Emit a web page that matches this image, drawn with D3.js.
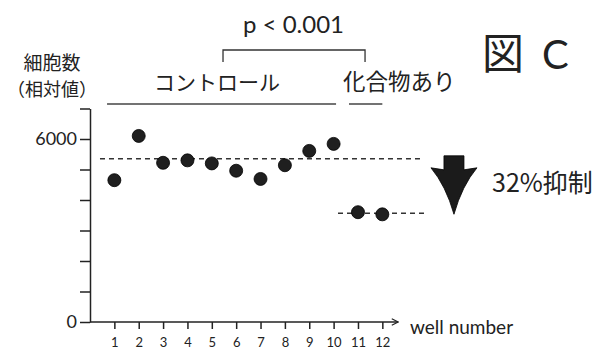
<!DOCTYPE html><html lang="ja"><head>
<meta charset="utf-8"/>
<title>図 C</title>
<script src="https://d3js.org/d3.v7.min.js"></script>
<style>
    body { width: 605px; height: 350px; margin: 0; padding: 0; background: #fff; }
    svg text { fill: #222; }
    .lat { font-family: Lato, 'Noto Sans', sans-serif; }
    .jp { font-family: 'Noto Sans CJK JP', 'Noto Sans', sans-serif; }
</style>
</head>
<body>
<div id="chart"></div>
<script>
    // wells and measured cell counts (relative)
    const wells = [1, 2, 3, 4, 5, 6, 7, 8, 9, 10, 11, 12];
    const cellCounts = [4650, 6100, 5220, 5300, 5200, 4960, 4690, 5140, 5610, 5840, 3600, 3530];
    const controlMean = 5350;
    const compoundMean = 3565;
    const yTicks = [0, 1000, 2000, 3000, 4000, 5000, 6000, 7000];
    const yTickLabels = { 0: "0", 6000: "6000" };

    const W = 605, H = 350;
    const svg = d3.select("#chart").append("svg")
        .attr("width", W).attr("height", H);

    const x = d3.scaleLinear().domain([0, 13]).range([90, 406.7]);
    const y = d3.scaleLinear().domain([0, 7000]).range([322, 108.5]);

    // arrow head for x axis
    svg.append("defs").append("marker")
        .attr("id", "arr").attr("viewBox", "0 0 10 10")
        .attr("refX", 9).attr("refY", 5)
        .attr("markerWidth", 8).attr("markerHeight", 8)
        .attr("markerUnits", "userSpaceOnUse")
        .attr("orient", "auto")
        .append("path").attr("d", "M1,1 L9,5 L1,9")
        .attr("fill", "none").attr("stroke", "#222").attr("stroke-width", 1.4);

    // y axis
    const yAxis = svg.append("g").attr("transform", "translate(90,0)")
        .call(d3.axisLeft(y).tickValues(yTicks).tickSize(10).tickSizeOuter(0).tickPadding(3)
            .tickFormat(d => yTickLabels[d] || ""));
    yAxis.select(".domain").attr("stroke", "#222").attr("stroke-width", 1.5);
    yAxis.selectAll(".tick line").attr("stroke", "#222").attr("stroke-width", 1.5);
    yAxis.selectAll("text").attr("class", "lat").style("font-size", "18px").attr("fill", "#222");

    // x axis
    const xAxis = svg.append("g").attr("transform", "translate(0,322)")
        .call(d3.axisBottom(x).tickValues(wells).tickSize(7).tickPadding(9).tickFormat(d3.format("d")));
    xAxis.select(".domain").remove();
    xAxis.selectAll(".tick line").attr("stroke", "#222").attr("stroke-width", 1.5);
    xAxis.selectAll("text").attr("class", "lat").style("font-size", "13px").attr("fill", "#222");
    svg.append("line")
        .attr("x1", x(0)).attr("x2", x(12.65))
        .attr("y1", 322).attr("y2", 322)
        .attr("stroke", "#222").attr("stroke-width", 1.5)
        .attr("marker-end", "url(#arr)");
    svg.append("text").attr("class", "lat")
        .attr("x", 410).attr("y", 334)
        .style("font-size", "19px")
        .text("well number");

    // mean lines
    const dashed = [
        { v: controlMean, from: 0.41, to: 13.67 },
        { v: compoundMean, from: 10.18, to: 13.75 }
    ];
    svg.selectAll(".mean").data(dashed).enter().append("line")
        .attr("class", "mean")
        .attr("x1", d => x(d.from)).attr("x2", d => x(d.to))
        .attr("y1", d => y(d.v)).attr("y2", d => y(d.v))
        .attr("stroke", "#333").attr("stroke-width", 1.5)
        .attr("stroke-dasharray", "5,4");

    // points
    svg.selectAll(".dot").data(wells).enter().append("circle")
        .attr("class", "dot")
        .attr("cx", d => x(d))
        .attr("cy", (d, i) => y(cellCounts[i]))
        .attr("r", 6.5)
        .attr("fill", "#1f1f1f").attr("stroke", "#000").attr("stroke-width", 0.8);

    // group lines
    const groups = [
        { label: "コントロール", from: 0.7, to: 10.1, tx: 154, fs: 21 },
        { label: "化合物あり", from: 10.63, to: 12.0, tx: 343, fs: 22.5 }
    ];
    svg.selectAll(".grp").data(groups).enter().append("line")
        .attr("class", "grp")
        .attr("x1", d => x(d.from)).attr("x2", d => x(d.to))
        .attr("y1", 104).attr("y2", 104)
        .attr("stroke", "#444").attr("stroke-width", 1.3);
    svg.selectAll(".grplab").data(groups).enter().append("text")
        .attr("class", "jp grplab")
        .attr("x", d => d.tx).attr("y", 90)
        .style("font-size", d => d.fs + "px")
        .text(d => d.label);

    // significance bracket
    const bl = x(5.46), br = x(11.29);
    svg.append("path")
        .attr("d", `M${bl},62 V50 H${br} V62`)
        .attr("fill", "none").attr("stroke", "#333").attr("stroke-width", 1.3);
    svg.append("text").attr("class", "lat")
        .attr("x", 243).attr("y", 33)
        .style("font-size", "24px")
        .text("p < 0.001");

    // y label
    svg.append("text").attr("class", "jp")
        .attr("x", 52).attr("y", 70).attr("text-anchor", "middle")
        .style("font-size", "19px").text("細胞数");
    svg.append("text").attr("class", "jp")
        .attr("x", 52).attr("y", 96).attr("text-anchor", "middle")
        .style("font-size", "18px").text("（相対値）");

    // inhibition arrow
    const ax = x(14.94), aTop = y(controlMean) - 3, aTip = y(compoundMean) + 1;
    svg.append("path")
        .attr("d", `M${ax - 10},${aTop} H${ax + 10} V${aTop + 14}
            L${ax + 23},${aTop + 12} Q${ax + 8},${aTop + 30} ${ax},${aTip}
            Q${ax - 8},${aTop + 30} ${ax - 23},${aTop + 12} L${ax - 10},${aTop + 14} Z`)
        .attr("fill", "#1b1b1b").attr("stroke", "#000").attr("stroke-width", 0.8);
    svg.append("text").attr("class", "jp")
        .attr("x", 492).attr("y", 192)
        .style("font-size", "25px")
        .text("32%抑制");

    // figure label
    const fig = svg.append("text").attr("x", 482).attr("y", 69);
    fig.append("tspan").attr("class", "jp").style("font-size", "42px").text("図");
    fig.append("tspan").attr("class", "lat").attr("dx", 18).style("font-size", "40px").text("C");
</script>
</body></html>
